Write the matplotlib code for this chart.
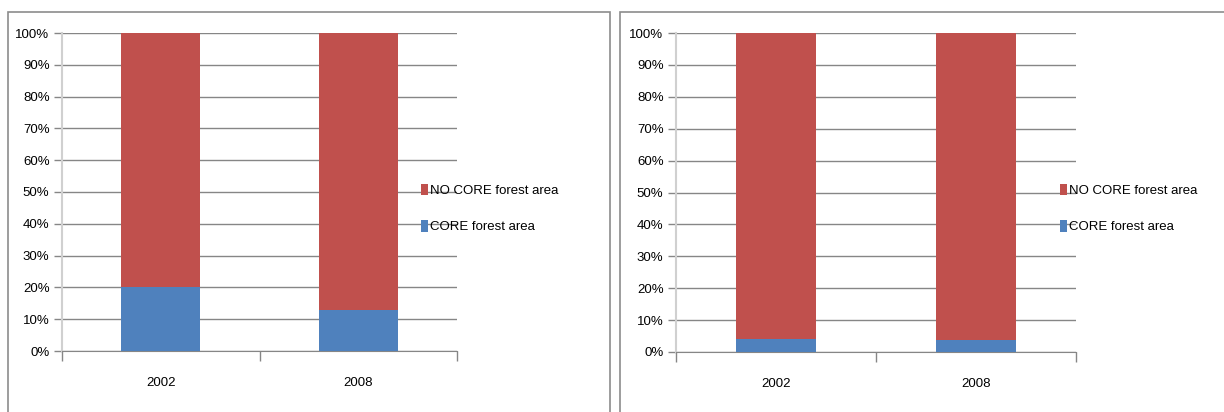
import matplotlib.pyplot as plt
from matplotlib.patches import Rectangle
from matplotlib.ticker import PercentFormatter, FixedLocator

years = ['2002', '2008']
core_left = [20, 13]
nocore_left = [80, 87]
core_right = [4, 3.7]
nocore_right = [96, 96.3]

RED = '#C0504D'
BLUE = '#4F81BD'
GRID = '#868686'

plt.rcParams['font.family'] = ['Liberation Sans', 'DejaVu Sans']

fig = plt.figure(figsize=(12.24, 4.12), dpi=100)

# panel frames
fig.add_artist(Rectangle((8 / 1224, -0.05), (610 - 8) / 1224, 1.05 - 12 / 412,
                         transform=fig.transFigure, fill=False, ec='#8c8c8c', lw=1.2))
fig.add_artist(Rectangle((620 / 1224, -0.05), (1230 - 620) / 1224, 1.05 - 12 / 412,
                         transform=fig.transFigure, fill=False, ec='#8c8c8c', lw=1.2))


def draw(rect, core, nocore, legend_x):
    ax = fig.add_axes(rect)
    x = range(len(years))
    ax.bar(x, core, width=0.4, color=BLUE, label='CORE forest area', zorder=3)
    ax.bar(x, nocore, width=0.4, bottom=core, color=RED, label='NO CORE forest area', zorder=3)
    ax.set_xlim(-0.5, 1.5)
    ax.set_ylim(0, 100)
    ax.set_yticks(range(0, 101, 10))
    ax.yaxis.set_major_formatter(PercentFormatter(decimals=0))
    ax.grid(axis='y', color=GRID, lw=1, zorder=0)
    ax.set_xticks(list(x))
    ax.set_xticklabels(years)
    ax.xaxis.set_minor_locator(FixedLocator([-0.5, 0.5, 1.5]))
    ax.tick_params(axis='x', which='major', length=0, pad=19, labelsize=9.5)
    ax.tick_params(axis='x', which='minor', length=7, color=GRID, width=1)
    ax.tick_params(axis='y', length=6, color=GRID, width=1, labelsize=9.5, pad=3)
    for s in ['top', 'right']:
        ax.spines[s].set_visible(False)
    ax.spines['left'].set_color('#d0d0d0')
    ax.spines['left'].set_linewidth(1.5)
    ax.spines['bottom'].set_color(GRID)
    h, l = ax.get_legend_handles_labels()
    fig.legend(h[::-1], l[::-1], loc='center left', bbox_to_anchor=(legend_x, 0.494),
               frameon=False, fontsize=9.5, handlelength=0.55, handleheight=1.0,
               handletextpad=0.2, labelspacing=1.75, borderpad=0)
    return ax


draw([62 / 1224, 1 - 351 / 412, (457 - 62) / 1224, (351 - 33) / 412], core_left, nocore_left, 414 / 1224)
draw([676 / 1224, 1 - 352 / 412, (1076 - 676) / 1224, (352 - 33) / 412], core_right, nocore_right, 1053 / 1224)

fig.savefig('out.png', dpi=100)
